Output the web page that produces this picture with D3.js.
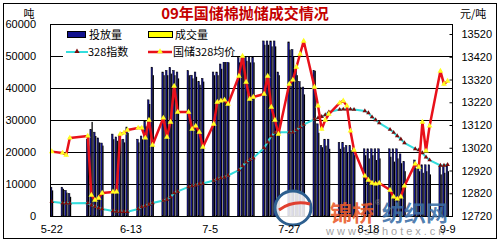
<!DOCTYPE html>
<html>
<head>
  <meta charset="utf-8">
  <style>
    body { margin: 0; background: #fff; }
    text { font-family: "Liberation Sans", Arial, sans-serif; }
    .cjk { font-family: "Noto Sans CJK SC", sans-serif; }
  </style>
  <script src="https://d3js.org/d3.v7.min.js"></script>
</head>
<body>
  <div id="chart"></div>
  <script>
    // trading days (2009)
    const dates = [
      "5-22", "5-25", "5-26", "5-27",
      "6-1", "6-2", "6-3", "6-4", "6-5",
      "6-8", "6-9", "6-10", "6-11", "6-12",
      "6-15", "6-16", "6-17", "6-18", "6-19",
      "6-22", "6-23", "6-24", "6-25", "6-26",
      "6-29", "6-30", "7-1", "7-2", "7-3",
      "7-6", "7-7", "7-8", "7-9", "7-10",
      "7-13", "7-14", "7-15", "7-16", "7-17",
      "7-20", "7-21", "7-22", "7-23", "7-24",
      "7-27", "7-28", "7-29", "7-30", "7-31",
      "8-3", "8-4", "8-5", "8-6", "8-7",
      "8-10", "8-11", "8-12", "8-13", "8-14",
      "8-17", "8-18", "8-19", "8-20", "8-21",
      "8-24", "8-25", "8-26", "8-27", "8-28",
      "8-31", "9-1", "9-2", "9-3", "9-4",
      "9-7", "9-8", "9-9"
    ];

    // 投放量 (吨)
    const offered = [
      9000, 9000, 8000, 7000,
      24000, 27000, 26200, 24400, 22800,
      25600, 24700, 25300, 24000, 27800,
      24000, 25000, 29700, 36300, 46500,
      45000, 45500, 46400, 45500, 45000,
      45400, 44000, 45000, 42000, 43000,
      45000, 45000, 47500, 49800, 49800,
      49500, 49500, 49700, 49700, 49700,
      54700, 54700, 54700, 54700, 45000,
      54400, 52000, 46000, 42000, 40300,
      45400, 28800, 22000, 24000, 24000,
      23000, 23000, 22000, 22000, 21000,
      21000, 21000, 21000, 21000, 21000,
      21000, 21000, 21000, 19400, 17000,
      17500, 16000, 16000, 16000, 16000,
      15600, 15600, 15600
    ];

    // 成交量 (吨)
    const traded = [
      8000, 8500, 7300, 6000,
      22000, 29400, 25000, 23000, 22000,
      24000, 23500, 24000, 23000, 26000,
      23000, 24000, 28000, 35000, 44000,
      44000, 44000, 44500, 44000, 43000,
      44000, 43000, 43500, 41000, 42000,
      44000, 44000, 46000, 48500, 48000,
      48000, 48500, 48500, 48000, 48000,
      53500, 53500, 53000, 53000, 44000,
      52000, 50000, 44000, 40300, 38000,
      45400, 26000, 21500, 22000, 21000,
      21000, 21500, 20000, 20500, 19000,
      19000, 18000, 19000, 17500, 18000,
      18500, 17000, 18000, 16500, 14000,
      15000, 14000, 13500, 14000, 13000,
      13000, 13500, 14000
    ];

    // 国储328均价 (元/吨)
    const avgPrice = [
      13003, 12997, 12988, 13063,
      13072, 12812, 12790, 12799, 12821,
      12826, 12826, 13080, 13085, 13098,
      13107, 13107, 13063, 13142, 13032,
      13151, 13067, 13133, 13291, 13177,
      13177, 13102, 13116, 13089, 13023,
      13124, 13221, 13226, 13230, 13212,
      13335, 13423, 13309, 13234, 13243,
      13256, 13335, 13199, 13142, 13080,
      13300, 13318, 13375, 13432, 13489,
      13287, 13204, 13102, 13142, 13168,
      13217, 13226, 13204, 13094, 13010,
      12896, 12878, 12865, 12861, 12865,
      12834, 12804, 12795, 12804, 12852,
      12949, 12935, 13133, 13006, 13116,
      13357, 13300, 13313
    ];

    // 328指数 (元/吨)
    const index328 = [
      12783, 12777, 12776, 12776,
      12777, 12768, 12762, 12755, 12751,
      12742, 12740, 12739, 12739, 12739,
      12751, 12760, 12764, 12771, 12777,
      12788, 12793, 12804, 12821, 12828,
      12848, 12852, 12856, 12861, 12863,
      12876, 12883, 12887, 12891, 12898,
      12922, 12940, 12957, 12968, 12975,
      13019, 13045, 13072, 13087, 13088,
      13088, 13088, 13098, 13111, 13122,
      13146, 13151, 13157, 13164, 13177,
      13188, 13189, 13189, 13189, 13188,
      13182, 13173, 13155, 13142, 13129,
      13100, 13087, 13072, 13058, 13041,
      13015, 13010, 12997, 12979, 12966,
      12942, 12942, 12946
    ];

    const xLabels = ["5-22", "6-13", "7-5", "7-27", "8-18", "9-9"];
    const leftTicks = [0, 10000, 20000, 30000, 40000, 50000, 60000];
    const rightTicks = [12720, 12820, 12920, 13020, 13120, 13220, 13320, 13420, 13520];

    const W = 500, H = 241;
    const plot = { left: 50, right: 453, top: 24, bottom: 216 };

    const toDate = s => { const p = s.split("-"); return new Date(2009, +p[0] - 1, +p[1]); };
    const key = d => (d.getMonth() + 1) + "-" + d.getDate();

    // calendar axis: every day from 5-22 to 9-10
    const allDays = d3.timeDay.range(new Date(2009, 4, 22), new Date(2009, 8, 11)).map(key);

    const x = d3.scaleBand().domain(allDays).range([plot.left, plot.right]).padding(0);
    const yL = d3.scaleLinear().domain([0, 60000]).range([plot.bottom, plot.top]);
    const yR = d3.scaleLinear().domain([12720, 13520]).range([plot.bottom, 34]);

    const data = dates.map((d, i) => ({
      date: key(toDate(d)), offered: offered[i], traded: traded[i],
      price: avgPrice[i], idx: index328[i]
    }));

    const svg = d3.select("#chart").append("svg")
      .attr("width", W)
      .attr("height", H);

    svg.append("rect").attr("width", W).attr("height", H).attr("fill", "#fff");

    // outer frame
    svg.append("rect")
      .attr("x", 3.5).attr("y", 3.5)
      .attr("width", 493).attr("height", 235)
      .attr("fill", "none").attr("stroke", "#000");

    // grid lines
    svg.append("g").selectAll("line")
      .data(leftTicks.slice(1, -1))
      .join("line")
      .attr("x1", plot.left).attr("x2", plot.right)
      .attr("y1", d => Math.round(yL(d)) + 0.5).attr("y2", d => Math.round(yL(d)) + 0.5)
      .attr("stroke", "#000");

    const bw = x.bandwidth();

    // 投放量 bars
    svg.append("g").selectAll("rect")
      .data(data)
      .join("rect")
      .attr("x", d => x(d.date) + 0.3)
      .attr("y", d => yL(d.offered))
      .attr("width", bw * 0.45)
      .attr("height", d => yL(0) - yL(d.offered))
      .attr("fill", "#12128e")
      .attr("stroke", "#000")
      .attr("stroke-width", 0.5);

    // 成交量 bars (thin columns, read as black in the picture)
    svg.append("g").selectAll("rect")
      .data(data)
      .join("rect")
      .attr("x", d => x(d.date) + 0.3 + bw * 0.45)
      .attr("y", d => yL(d.traded))
      .attr("width", bw * 0.35)
      .attr("height", d => yL(0) - yL(d.traded))
      .attr("fill", "#000");

    const cx = d => x(d.date) + bw / 2;

    // 328指数 line
    svg.append("path")
      .datum(data)
      .attr("fill", "none")
      .attr("stroke", "#33dddd")
      .attr("stroke-width", 2)
      .attr("d", d3.line().x(cx).y(d => yR(d.idx)));

    svg.append("g").selectAll("path")
      .data(data)
      .join("path")
      .attr("transform", d => `translate(${cx(d)},${yR(d.idx)})`)
      .attr("d", d3.symbol(d3.symbolTriangle).size(9))
      .attr("fill", "#7a0a0a");

    // 国储328均价 line
    svg.append("path")
      .datum(data)
      .attr("fill", "none")
      .attr("stroke", "#e8101a")
      .attr("stroke-width", 2.5)
      .attr("stroke-linejoin", "round")
      .attr("d", d3.line().x(cx).y(d => yR(d.price)));

    svg.append("g").selectAll("path")
      .data(data)
      .join("path")
      .attr("transform", d => `translate(${cx(d)},${yR(d.price)})`)
      .attr("d", d3.symbol(d3.symbolTriangle).size(14))
      .attr("fill", "#ffff22");

    // legend
    const lg = svg.append("g");
    lg.append("rect")
      .attr("x", 63).attr("y", plot.top + 1)
      .attr("width", 168).attr("height", 37)
      .attr("fill", "#fff");
    lg.append("rect").attr("x", 67.5).attr("y", 31.5).attr("width", 18).attr("height", 6)
      .attr("fill", "#12128e").attr("stroke", "#000");
    lg.append("text").attr("class", "cjk").attr("x", 89).attr("y", 39)
      .style("font-size", "11px").text("投放量");
    lg.append("rect").attr("x", 148.5).attr("y", 31.5).attr("width", 24).attr("height", 6)
      .attr("fill", "#ffff00").attr("stroke", "#000");
    lg.append("text").attr("class", "cjk").attr("x", 175).attr("y", 39)
      .style("font-size", "11px").text("成交量");

    lg.append("line").attr("x1", 66).attr("x2", 88).attr("y1", 52).attr("y2", 52)
      .attr("stroke", "#33dddd").attr("stroke-width", 2);
    lg.append("path").attr("transform", "translate(77,51.5)")
      .attr("d", d3.symbol(d3.symbolTriangle).size(12)).attr("fill", "#7a0a0a");
    lg.append("text").attr("class", "cjk").attr("x", 88).attr("y", 56)
      .style("font-size", "11px").text("328指数");

    lg.append("line").attr("x1", 148).attr("x2", 172).attr("y1", 52).attr("y2", 52)
      .attr("stroke", "#e8101a").attr("stroke-width", 2.5);
    lg.append("path").attr("transform", "translate(160,51.5)")
      .attr("d", d3.symbol(d3.symbolTriangle).size(14)).attr("fill", "#ffff22");
    lg.append("text").attr("class", "cjk").attr("x", 173).attr("y", 56)
      .style("font-size", "11px").text("国储328均价");

    // plot border
    svg.append("rect")
      .attr("x", plot.left + 0.5).attr("y", plot.top + 0.5)
      .attr("width", plot.right - plot.left - 1).attr("height", plot.bottom - plot.top)
      .attr("fill", "none").attr("stroke", "#000");

    // axes
    const axL = svg.append("g")
      .attr("transform", `translate(${plot.left},0)`)
      .call(d3.axisLeft(yL).tickValues(leftTicks).tickSize(0).tickPadding(14).tickFormat(d3.format("d")));
    axL.select(".domain").remove();

    const axR = svg.append("g")
      .attr("transform", `translate(${plot.right - 0.5},0)`)
      .call(d3.axisRight(yR).tickValues(rightTicks).tickSize(-3).tickPadding(9).tickFormat(d3.format("d")));
    axR.select(".domain").remove();

    // site watermark (sits over the lower right of the plot in the picture)
    const wm = svg.append("g");
    wm.append("ellipse").attr("cx", 293).attr("cy", 208).attr("rx", 18).attr("ry", 17)
      .attr("fill", "#fff").attr("fill-opacity", 0.85)
      .attr("stroke", "#2d5f8f").attr("stroke-width", 3);
    wm.append("path").attr("d", "M279,210 Q293,200 310,204")
      .attr("fill", "none").attr("stroke", "#e04030").attr("stroke-width", 3);
    wm.append("text").attr("class", "cjk").attr("x", 330).attr("y", 221)
      .style("font-size", "22px").style("font-weight", "bold")
      .attr("fill", "#ea5a2a").attr("fill-opacity", 0.9).text("锦桥");
    wm.append("text").attr("x", 375).attr("y", 205)
      .style("font-size", "8px").attr("fill", "#888").text("®");
    wm.append("text").attr("class", "cjk").attr("x", 382).attr("y", 221)
      .style("font-size", "22px").style("font-weight", "bold")
      .attr("fill", "#3b6ea6").attr("fill-opacity", 0.9).text("纺织网");

    const axB = svg.append("g")
      .attr("transform", `translate(0,${plot.bottom})`)
      .call(d3.axisBottom(x).tickValues(xLabels).tickSize(0).tickPadding(9));
    axB.select(".domain").remove();

    svg.selectAll(".tick text")
      .style("font-family", "'Liberation Sans', Arial, sans-serif")
      .style("font-size", "11px")
      .attr("fill", "#000");

    wm.append("text").attr("x", 326).attr("y", 235)
      .style("font-size", "11px").style("letter-spacing", "3px")
      .attr("fill", "#8a8a8a").attr("fill-opacity", 0.8).text("www.sohotex.cn");

    // unit labels and title
    svg.append("text").attr("class", "cjk").attr("x", 29).attr("y", 18)
      .attr("text-anchor", "middle").style("font-size", "11px").text("吨");
    svg.append("text").attr("class", "cjk").attr("x", 460).attr("y", 18)
      .style("font-size", "11px").text("元/吨");
    svg.append("text").attr("class", "cjk").attr("x", 245).attr("y", 19)
      .attr("text-anchor", "middle")
      .style("font-size", "15px").style("font-weight", "bold")
      .attr("fill", "#c40000").text("09年国储棉抛储成交情况");
  </script>
</body>
</html>
